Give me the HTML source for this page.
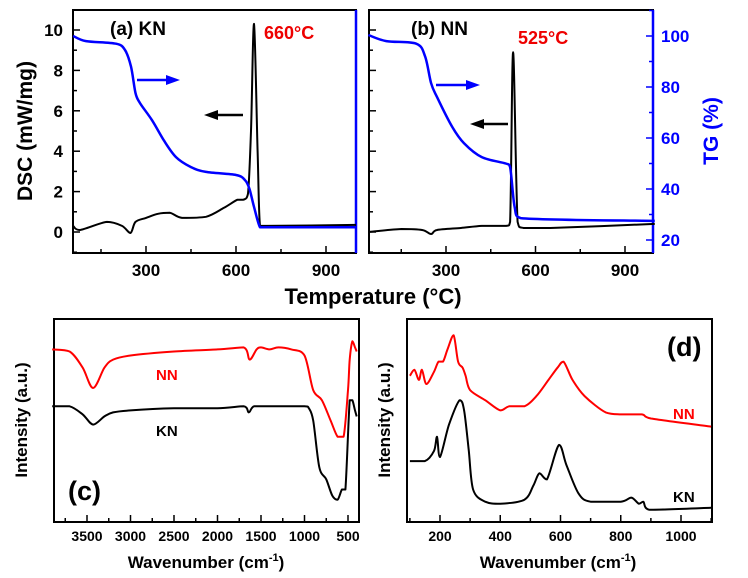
<!DOCTYPE html>
<html><head><meta charset="utf-8"><style>
html,body{margin:0;padding:0;background:#fff;}
svg{display:block;font-family:"Liberation Sans",Arial,sans-serif;font-weight:bold;}
</style></head><body>
<svg id="fig" width="748" height="578" viewBox="0 0 748 578" xmlns="http://www.w3.org/2000/svg">
<g id="g"></g>
</svg>
<script>
// ---- data (a) KN ----
const aDscT = [57,80,170,220,248,265,300,340,380,420,500,560,605,625,640,650,660,672,680,700,1000];
const aDscV = [0.3,0.1,0.5,0.3,-0.05,0.5,0.7,0.9,0.95,0.7,0.75,1.2,1.6,1.6,1.9,5,10.3,4,0.3,0.3,0.35];
const aTgT = [57,100,200,230,250,265,280,320,360,400,450,500,600,630,645,660,680,700,1000];
const aTgV = [100,98,97,94.5,88,77.6,73.7,67,59,52.5,48.6,46.7,45.5,43.5,40,33,25,25,25];
// ---- data (b) NN ----
const bDscT = [40,150,220,250,270,350,420,500,515,525,540,560,650,1000];
const bDscV = [0,0.15,0.1,-0.1,0.1,0.2,0.3,0.3,0.5,8.9,0.5,0.2,0.2,0.4];
const bTgT = [40,100,200,230,250,270,320,360,420,500,515,530,550,1000];
const bTgV = [100.4,98,97,92,81.5,76,64.5,58,52.5,50,48.6,33,28.6,27.5];
// ---- data (c) FTIR ----
const cNNx = [3900,3700,3550,3430,3300,3200,3000,2500,2000,1700,1630,1550,1500,1400,1300,1150,1000,900,800,700,620,550,500,480,450,420,400];
const cNNy = [85,84,76,66,76,80,82,84,85,86,80,85,86,85,86,85,82,65,60,50,42,42,65,80,89,86,84];
const cKNx = [3900,3700,3550,3430,3300,3200,3000,2500,2000,1700,1640,1580,1400,1000,950,900,830,750,680,620,570,530,480,450,420,400];
const cKNy = [57,57,53,48,52,54,55,56,56,57,54,57,57,57,56,50,27,21,13,11,16,16,60,60,55,52];
// ---- data (d) Raman ----
const dNNx = [100,115,130,140,155,180,195,210,225,245,260,275,285,300,350,400,430,480,520,560,590,610,640,680,750,800,870,900,1100];
const dNNy = [72,75,70,75,68,74,79,79,85,92,79,76,72,65,60,55,57,57,62,70,76,79,70,62,54,53,53,51,47];
const dKNx = [100,150,180,190,200,230,265,280,295,310,350,400,480,510,530,555,595,620,660,700,800,835,860,875,895,1100];
const dKNy = [30,30,35,42,32,48,60,55,36,16,10,9,11,18,24,21,38,28,14,10,10,12,9,10,6,7];
// tick labels
const tempTicks = [300,600,900];
const dscTicks = [0,2,4,6,8,10];
const tgTicks = [20,40,60,80,100];
const cTicks = [3500,3000,2500,2000,1500,1000,500];
const dTicks = [200,400,600,800,1000];

const NS="http://www.w3.org/2000/svg", G=document.getElementById('g');
function el(t,a,txt){const e=document.createElementNS(NS,t);for(const k in a)e.setAttribute(k,a[k]);if(txt!==undefined)e.textContent=txt;G.appendChild(e);return e;}
function lin(d0,d1,r0,r1){return v=>r0+(v-d0)*(r1-r0)/(d1-d0);}
function clamp(v,a,b){const lo=Math.min(a,b),hi=Math.max(a,b);return Math.max(lo,Math.min(hi,v));}
function path(xs,ys,sx,sy,color,w,name){
  const P=xs.map((x,i)=>[sx(x),sy(ys[i])]);
  let d='M'+P[0][0].toFixed(1)+','+P[0][1].toFixed(1);
  const k=0.16;
  for(let i=0;i<P.length-1;i++){
    const p0=P[Math.max(0,i-1)],p1=P[i],p2=P[i+1],p3=P[Math.min(P.length-1,i+2)];
    const c1=[clamp(p1[0]+(p2[0]-p0[0])*k,p1[0],p2[0]),clamp(p1[1]+(p2[1]-p0[1])*k,p1[1],p2[1])];
    const c2=[clamp(p2[0]-(p3[0]-p1[0])*k,p1[0],p2[0]),clamp(p2[1]-(p3[1]-p1[1])*k,p1[1],p2[1])];
    d+='C'+c1.map(v=>v.toFixed(1)).join(',')+' '+c2.map(v=>v.toFixed(1)).join(',')+' '+p2.map(v=>v.toFixed(1)).join(',');
  }
  const p=el('path',{d:d,fill:'none',stroke:color,'stroke-width':w,'stroke-linejoin':'round'});
  
  
}
function txt(x,y,s,size,color,name,anchor,rot){
  const a={x:x,y:y,'font-size':size,fill:color,'text-anchor':anchor||'middle'};
  if(rot)a.transform='rotate(-90 '+x+' '+y+')';
  const t=el('text',a,s);
  
  
  return t;
}
function line(x1,y1,x2,y2,c,w){el('line',{x1:x1,y1:y1,x2:x2,y2:y2,stroke:c,'stroke-width':w||2});}
function arrow(x1,x2,y,c,name){
  line(x1,y,x2-(x2>x1?8:-8),y,c,2.5);
  const dir=x2>x1?1:-1;
  const p=el('polygon',{points:`${x2},${y} ${x2-dir*14},${y-5} ${x2-dir*14},${y+5}`,fill:c});
  
  
}
function wavTitle(x,name){
  const t=el('text',{x:x,y:568,'font-size':17,fill:'#000','text-anchor':'middle'});
  
  
  t.innerHTML='Wavenumber (cm<tspan font-size="11" dy="-7">-1</tspan><tspan dy="7">)</tspan>';
}

// ---- panel a ----
{const L=73,R=356,T=10,B=253;
 const sx=lin(300,600,146,236), sy=lin(0,10,232,30), sg=lin(20,100,240,36);
 el('rect',{x:L,y:T,width:R-L,height:B-T,fill:'none',stroke:'#000','stroke-width':2});
 line(R,T,R,B,'#00f',2.5);
 for(let v=-1;v<=11;v++){const y=sy(v);if(y<T||y>B)continue;line(L,y,L+(v%2?4:7),y,'#000',1.5);}
 for(let t=150;t<=1000;t+=150){line(sx(t),B,sx(t),B-(t%300?4:7),'#000',1.5);}
 dscTicks.forEach(v=>txt(L-10,sy(v)+6,String(v),17,'#000','dsc-tick-label','end'));
 tempTicks.forEach(v=>txt(sx(v),276,String(v),17,'#000','temp-tick-label-a'));
 path(aDscT,aDscV,sx,sy,'#000',2,'kn-dsc-curve');
 path(aTgT,aTgV,sx,sg,'#00f',2.5,'kn-tg-curve');
 txt(110,35,'(a) KN',19,'#000','panel-a-label','start');
 txt(264,39,'660°C',18,'#e00','kn-peak-label','start');
 arrow(137,180,80,'#00f','kn-tg-arrow');
 arrow(243,204,115,'#000','kn-dsc-arrow');
}
// ---- panel b ----
{const L=369,R=653,T=10,B=253;
 const sx=lin(300,900,446,625), sy=lin(0,10,232,30), sg=lin(20,100,240,36);
 el('rect',{x:L,y:T,width:R-L,height:B-T,fill:'none',stroke:'#000','stroke-width':2});
 line(R,T,R,B,'#00f',2.5);
 for(let v=-1;v<=11;v++){const y=sy(v);if(y<T||y>B)continue;line(L,y,L+(v%2?4:7),y,'#000',1.5);}
 for(let v=20;v<=110;v+=10){const y=sg(v);if(y<T)continue;line(R,y,R-(v%20?4:7),y,'#00f',1.5);}
 for(let t=150;t<=1000;t+=150){line(sx(t),B,sx(t),B-(t%300?4:7),'#000',1.5);}
 tgTicks.forEach(v=>txt(R+8,sg(v)+6,String(v),17,'#00f','tg-tick-label','start'));
 tempTicks.forEach(v=>txt(sx(v),276,String(v),17,'#000','temp-tick-label-b'));
 path(bDscT,bDscV,sx,sy,'#000',2,'nn-dsc-curve');
 path(bTgT,bTgV,sx,sg,'#00f',2.5,'nn-tg-curve');
 txt(411,35,'(b) NN',19,'#000','panel-b-label','start');
 txt(518,44,'525°C',18,'#e00','nn-peak-label','start');
 arrow(436,480,85,'#00f','nn-tg-arrow');
 arrow(508,470,124,'#000','nn-dsc-arrow');
}
txt(32,131,'DSC (mW/mg)',21,'#000','dsc-axis-title','middle',true);
txt(718,131,'TG (%)',21,'#00f','tg-axis-title','middle',true);
txt(373,304,'Temperature (°C)',22,'#000','temperature-axis-title');
// ---- panel c ----
{const L=54,R=359,T=319,B=522;
 const sx=lin(3500,500,87,348), sy=lin(0,100,B,T);
 el('rect',{x:L,y:T,width:R-L,height:B-T,fill:'none',stroke:'#000','stroke-width':2});
 for(let t=3750;t>=400;t-=250){const x=sx(t);if(x<L||x>R)continue;line(x,B,x,B-(t%500?4:7),'#000',1.5);}
 cTicks.forEach(v=>txt(sx(v),541,String(v),14,'#000','ftir-tick-label'));
 path(cNNx,cNNy,sx,sy,'#f00',2,'ftir-nn-curve');
 path(cKNx,cKNy,sx,sy,'#000',2,'ftir-kn-curve');
 txt(156,380,'NN',15,'#f00','ftir-nn-label','start');
 txt(156,436,'KN',15,'#000','ftir-kn-label','start');
 txt(68,500,'(c)',27,'#000','panel-c-label','start');
 wavTitle(206,'ftir-x-title');
 txt(27,420,'Intensity (a.u.)',17,'#000','ftir-y-title','middle',true);
}
// ---- panel d ----
{const L=407,R=712,T=319,B=522;
 const sx=lin(200,1000,440,681), sy=lin(0,100,B,T);
 el('rect',{x:L,y:T,width:R-L,height:B-T,fill:'none',stroke:'#000','stroke-width':2});
 for(let t=100;t<=1100;t+=100){const x=sx(t);if(x<=L||x>=R)continue;line(x,B,x,B-(t%200?4:7),'#000',1.5);}
 dTicks.forEach(v=>txt(sx(v),541,String(v),14,'#000','raman-tick-label'));
 path(dNNx,dNNy,sx,sy,'#f00',2,'raman-nn-curve');
 path(dKNx,dKNy,sx,sy,'#000',2,'raman-kn-curve');
 txt(673,419,'NN',15,'#f00','raman-nn-label','start');
 txt(673,502,'KN',15,'#000','raman-kn-label','start');
 txt(667,356,'(d)',27,'#000','panel-d-label','start');
 wavTitle(558,'raman-x-title');
 txt(390,420,'Intensity (a.u.)',17,'#000','raman-y-title','middle',true);
}
</script>
</body></html>
